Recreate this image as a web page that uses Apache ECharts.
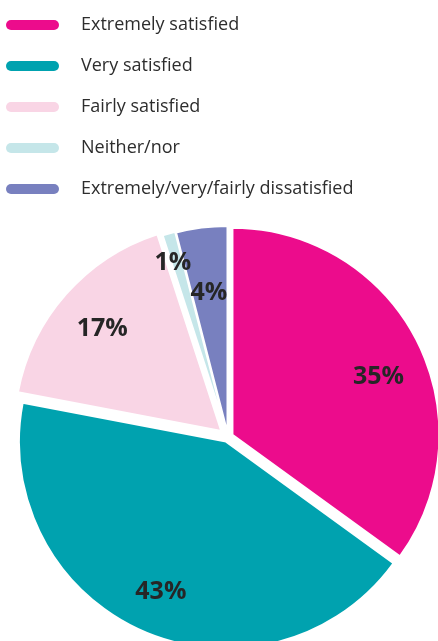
<!DOCTYPE html>
<html>
<head>
<meta charset="utf-8">
<style>
  html, body { margin: 0; padding: 0; background: #fff; }
  #main { width: 438px; height: 641px; }
</style>
<script src="https://cdn.jsdelivr.net/npm/echarts@6/dist/echarts.min.js"></script>
</head>
<body>
<div id="main"></div>
<script>
// data
var categories = ['Extremely satisfied', 'Very satisfied', 'Fairly satisfied', 'Neither/nor', 'Extremely/very/fairly dissatisfied'];
var values = [35, 43, 17, 1, 4];
var colors = ['#ec0c8c', '#00a2af', '#f9d5e5', '#c5e6e9', '#7880bf'];
// how far each slice is pulled out from the centre
var explode = [5, 5, 9, 5, 4];
// small nudges for the percentage labels
var labelNudge = [[0, 17], [0, 0], [1, 4], [-8, -12], [2, 24]];

var myChart = echarts.init(document.getElementById('main'));
var CENTER = [228, 437];
var R = 207;

// one pie series per slice so every slice gets its own pull-out distance
var sliceSeries = categories.map(function (cat, k) {
  return {
    name: cat,
    type: 'pie',
    center: CENTER,
    radius: [0, R],
    startAngle: 90,
    clockwise: true,
    selectedMode: 'multiple',
    selectedOffset: explode[k],
    silent: true,
    label: { show: false },
    labelLine: { show: false },
    data: categories.map(function (name, i) {
      return {
        name: name,
        value: values[i],
        selected: i === k,
        itemStyle: i === k
          ? { color: colors[i], borderColor: '#fff', borderWidth: 2 }
          : { color: 'rgba(0,0,0,0)', borderWidth: 0 }
      };
    })
  };
});

var labelSeries = {
  name: 'labels',
  type: 'pie',
  center: CENTER,
  radius: [117, R],
  startAngle: 90,
  clockwise: true,
  selectedMode: 'multiple',
  selectedOffset: 4,
  silent: true,
  avoidLabelOverlap: false,
  minShowLabelAngle: 0,
  itemStyle: { color: 'rgba(0,0,0,0)' },
  label: {
    show: true,
    position: 'inside',
    formatter: '{c}%',
    fontFamily: 'Open Sans',
    fontWeight: 'bold',
    fontSize: 25,
    color: '#262626'
  },
  labelLayout: function (params) {
    var n = labelNudge[params.dataIndex];
    return { dx: n[0], dy: n[1] };
  },
  labelLine: { show: false },
  data: categories.map(function (name, i) {
    return { name: name, value: values[i], selected: true };
  })
};

var option = {
  animation: false,
  color: colors,
  legend: {
    orient: 'vertical',
    left: 1,
    top: 10,
    itemWidth: 53,
    itemHeight: 11,
    itemGap: 21,
    icon: 'path://M5,0 L48,0 A5,5 0 0 1 48,10 L5,10 A5,5 0 0 1 5,0 Z',
    selectedMode: false,
    data: categories.map(function (name, i) {
      return { name: name, itemStyle: { color: colors[i], borderWidth: 0 } };
    }),
    textStyle: {
      fontFamily: 'Open Sans',
      fontSize: 18,
      color: '#2d2d2d',
      lineHeight: 20,
      padding: [0, 0, 0, 17]
    }
  },
  series: sliceSeries.concat([labelSeries])
};

myChart.setOption(option);
</script>
</body>
</html>
